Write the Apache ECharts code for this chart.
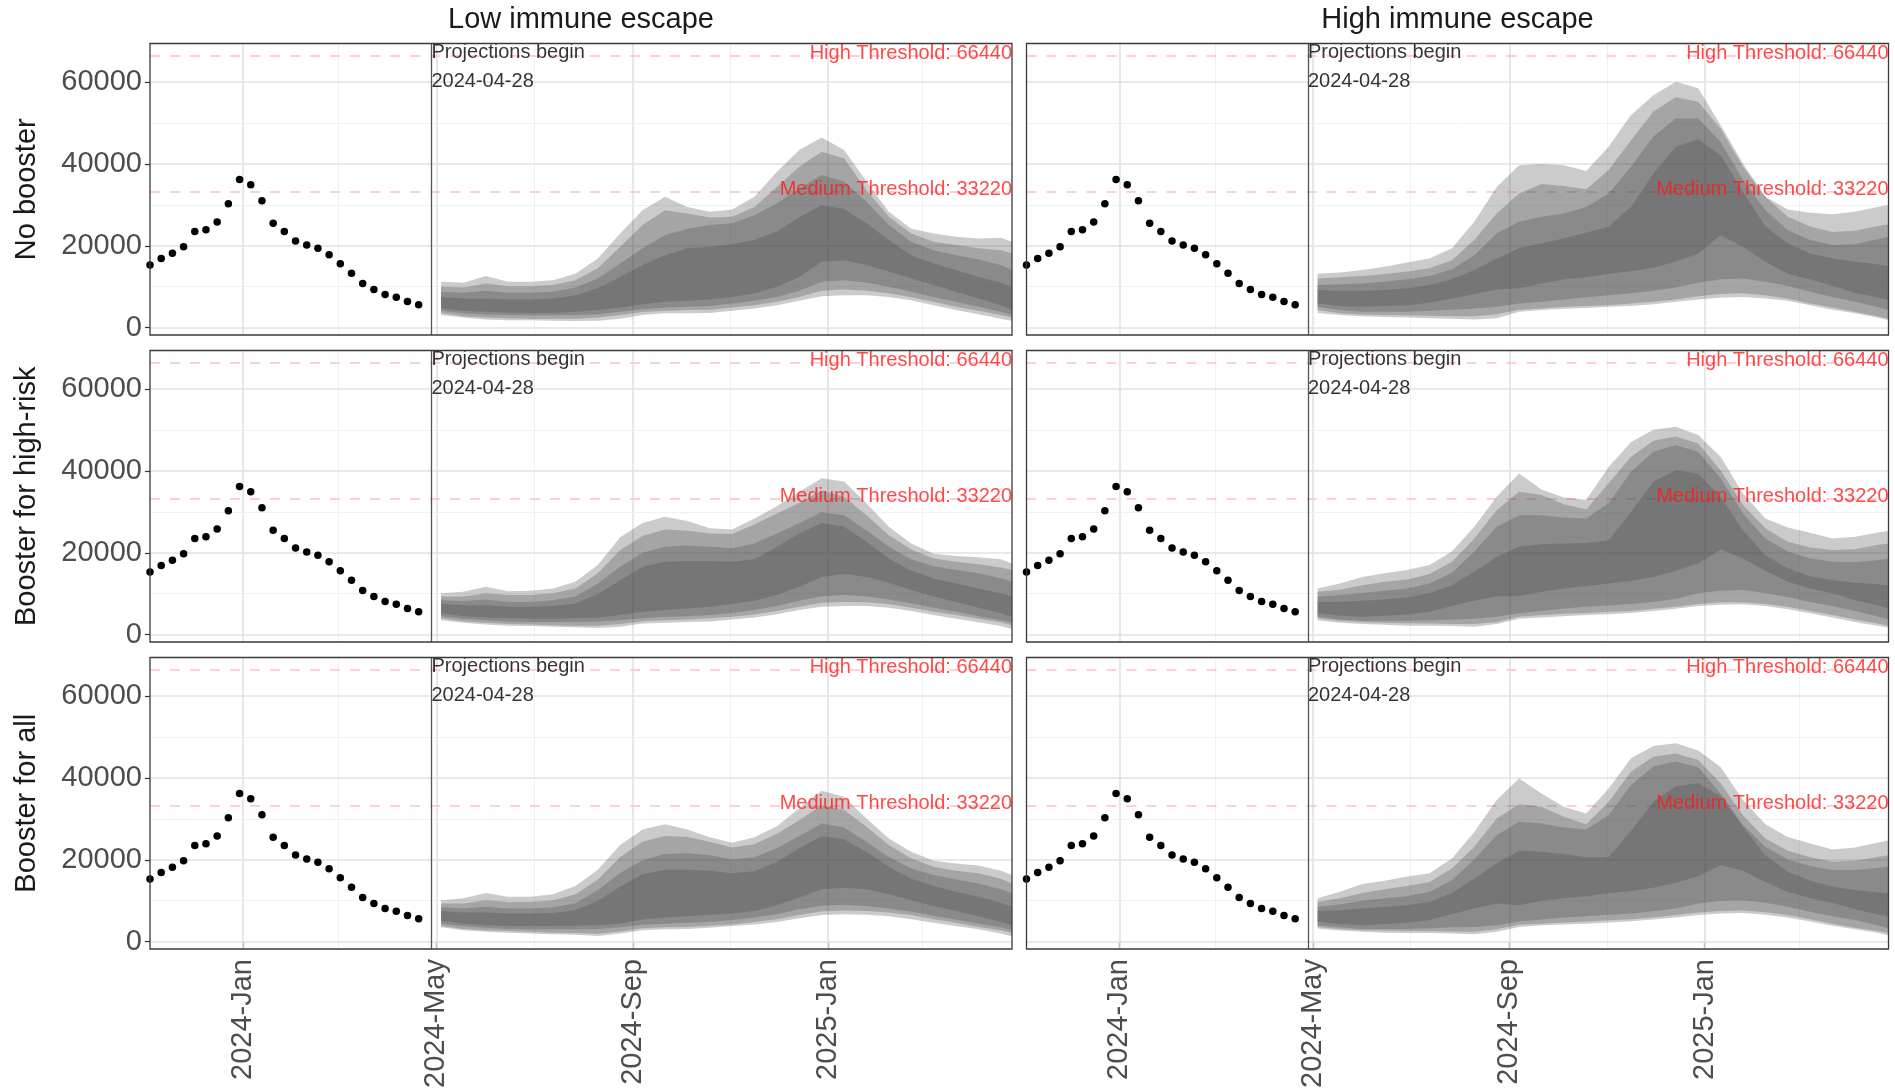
<!DOCTYPE html>
<html><head><meta charset="utf-8">
<script src="https://cdn.jsdelivr.net/npm/echarts@6/dist/echarts.min.js"></script>
<style>html,body{margin:0;padding:0;background:#fff}#c{width:1895px;height:1090px}</style>
</head><body><div id="c"></div><script>
// ---------- data ----------
const colTitles = ['Low immune escape', 'High immune escape'];
const rowTitles = ['No booster', 'Booster for high-risk', 'Booster for all'];
const xTickDates = ['2024-01-01','2024-05-01','2024-09-01','2025-01-01'];
const xTickLabels = ['2024-Jan','2024-May','2024-Sep','2025-Jan'];
const xMinorDates = ['2024-03-01','2024-07-01','2024-11-01','2025-03-01'];
const yTicks = [0, 20000, 40000, 60000];
const yMinor = [10000, 30000, 50000];
const thresholds = [66440, 33220];
const thresholdNames = ['High Threshold', 'Medium Threshold'];
const projStart = '2024-04-28';

const obsDates = ['2023-11-04','2023-11-11','2023-11-18','2023-11-25','2023-12-02','2023-12-09','2023-12-16','2023-12-23','2023-12-30','2024-01-06','2024-01-13','2024-01-20','2024-01-27','2024-02-03','2024-02-10','2024-02-17','2024-02-24','2024-03-02','2024-03-09','2024-03-16','2024-03-23','2024-03-30','2024-04-06','2024-04-13','2024-04-20'];
const obsValues = [15300,16900,18200,19800,23500,23900,25800,30300,36200,34900,31000,25500,23500,21200,20200,19400,17800,15600,13300,10800,9300,8100,7400,6400,5600];

const projDates = ['2024-05-04','2024-05-18','2024-06-01','2024-06-15','2024-06-29','2024-07-13','2024-07-27','2024-08-10','2024-08-24','2024-09-07','2024-09-21','2024-10-05','2024-10-19','2024-11-02','2024-11-16','2024-11-30','2024-12-14','2024-12-28','2025-01-11','2025-01-25','2025-02-08','2025-02-22','2025-03-08','2025-03-22','2025-04-05','2025-04-19','2025-04-26'];

// Low immune escape / No booster
const L1_hi95 = [11200,11000,12600,11200,11200,11600,13200,16900,23000,28700,32000,29500,28300,28900,32000,38100,43400,46500,43400,35700,28300,24200,23000,22200,21800,22000,21000];
const L1_hi90 = [10000,9800,10800,10100,10100,10400,11600,14500,19800,25100,28700,27900,26900,27100,29500,34400,39300,43000,41400,33600,27100,23000,21000,20200,19400,18900,18100];
const L1_hi80 = [8800,8500,9000,8500,8500,8800,9800,12000,15700,19400,22600,24200,25100,25500,27500,30400,34000,37300,35700,30800,25100,21000,18900,17700,16700,15300,14100];
const L1_hi50 = [7500,7100,7100,6900,6900,7100,7900,9600,12400,15300,17700,19400,19800,20400,21400,23500,27000,30000,29000,25500,21400,17700,15700,14100,12400,11000,10000];
const L1_lo50 = [4700,4100,3900,3700,3600,3600,3900,4300,4900,5700,6300,6600,6900,7500,8400,10000,12400,16100,16500,15300,13700,12000,10400,8800,7100,5500,4400];
const L1_lo80 = [4100,3500,3200,3100,3000,3000,3100,3300,3900,4500,4900,5100,5300,5900,6600,7500,9000,11200,11600,11000,10000,8800,7500,6300,5100,3900,3100];
const L1_lo90 = [3600,2800,2500,2300,2200,2200,2200,2500,3100,3800,4100,4300,4400,4900,5500,6300,7500,9000,9300,9000,8400,7400,6300,5100,4100,3100,2500];
const L1_lo95 = [3100,2500,2000,1800,1800,1700,1600,1700,2200,3100,3500,3500,3600,4100,4700,5500,6600,7700,7900,7900,7500,6700,5500,4300,3300,2200,1600];

// High immune escape / No booster
const R1_hi95 = [13200,13500,14100,14900,15900,16900,19400,25900,34400,39700,40000,39700,38300,44200,52000,56800,60100,58500,49500,40100,32000,28900,28100,27700,28300,29500,30000];
const R1_hi90 = [12000,12300,12600,13100,13700,14500,16500,21400,27900,32800,35100,34600,33800,38500,45800,52800,56300,55200,48700,39300,32000,27100,24700,23400,23700,24800,25300];
const R1_hi80 = [10400,10600,10800,11200,11800,12600,14300,17700,23000,25900,27100,27900,29500,32800,39300,46700,51100,51100,45400,36100,28700,23800,21400,20200,20400,21600,22200];
const R1_hi50 = [9200,9000,9000,9200,9600,10400,11800,14100,16900,19400,20600,21800,23200,24700,29500,37700,44200,46000,42200,33200,24700,20600,18100,16900,16100,15500,15000];
const R1_lo50 = [5900,5300,5100,5300,5500,6100,7100,8200,9300,9600,10800,11800,12300,13200,13800,14700,16100,18100,22600,19800,16100,13200,11800,10200,8500,7400,6700];
const R1_lo80 = [5100,4300,3900,3900,3900,4100,4400,4700,5100,5900,6300,6900,7400,7900,8400,9000,9800,11000,11800,12000,11200,10200,8800,7500,6300,5100,4300];
const R1_lo90 = [4300,3500,3200,3100,3000,2900,2800,2800,3300,4400,4700,5100,5300,5500,5900,6300,6900,7700,8200,8400,7900,7100,5900,4900,3900,2800,2200];
const R1_lo95 = [3600,3100,2800,2600,2500,2300,2200,2000,2300,3900,4300,4600,4800,5100,5300,5700,6300,6900,7300,7500,7100,6600,5500,4400,3500,2500,1800];

// Low immune escape / Booster for high-risk
const L2_hi95 = [10100,10500,11700,10600,10700,11300,12900,17000,23800,27300,28800,27800,26000,25700,28400,31400,34900,38200,37400,32100,26400,22300,19800,19200,18900,18400,17400];
const L2_hi90 = [9300,9300,10100,9700,9700,10100,11300,15000,20700,24100,25700,25400,24700,24600,27000,29600,32200,35200,33700,29200,24300,20800,18600,17800,17200,16400,15800];
const L2_hi80 = [8400,8200,8600,8000,8000,8400,9300,12500,16600,20000,21500,21800,21500,21100,22300,24700,27200,30000,29200,25500,21500,18400,16700,15800,15000,13700,12900];
const L2_hi50 = [7600,7200,7200,6800,6800,7000,7600,9900,13300,16600,17800,18000,18000,17800,18400,21500,24700,27300,26400,22700,18600,15600,13700,12500,11300,10100,9300];
const L2_lo50 = [5200,4500,4200,4000,3900,3900,4000,4200,4800,5600,6000,6400,6800,7500,8300,9700,11700,14100,14800,14100,12700,10900,9300,8000,6600,5200,4400];
const L2_lo80 = [4500,3900,3500,3200,3100,3100,3100,3200,3500,4000,4400,4500,4800,5300,6000,7000,8300,9400,9700,9300,8600,7600,6600,5600,4500,3500,3000];
const L2_lo90 = [4000,3300,2900,2600,2500,2300,2200,2200,2600,3300,3500,3700,4000,4400,4900,5800,6800,7800,8000,7900,7500,6600,5600,4800,3900,3000,2300];
const L2_lo95 = [3500,2900,2500,2200,2100,1900,1800,1600,1900,2700,2900,3100,3200,3700,4200,5000,6000,6800,7000,7000,6600,5800,4800,3900,3000,2100,1400];

// High immune escape / Booster for high-risk
const R2_hi95 = [11300,12500,14100,15000,15800,17000,20300,26400,33700,39400,35500,33500,33000,41000,47100,50100,50800,48800,43500,34500,28400,26200,24900,23500,23900,24900,25400];
const R2_hi90 = [10500,11000,12100,12900,13500,14800,17800,23500,30400,34900,34100,31900,30600,37000,43500,47400,48400,46700,40200,31700,26000,22700,21300,20700,20900,21900,22300];
const R2_hi80 = [9300,9700,10200,10700,11300,12500,15100,20300,26400,29200,29200,28600,28400,32100,39800,44700,46300,44700,38200,29600,23500,20300,18600,17800,17700,18200,18600];
const R2_hi50 = [8000,8000,8300,8600,9100,10100,12100,15400,19000,21500,22100,22300,22400,23100,30000,37400,40100,39400,33700,25500,19400,16200,14300,13300,12700,12300,12100];
const R2_lo50 = [5200,4600,4400,4600,4900,5600,7000,8300,9400,9400,10500,11300,11900,12500,13200,14100,15600,17400,20800,18600,15600,12900,11300,10100,8400,7200,6400];
const R2_lo80 = [4400,3700,3400,3400,3400,3500,3700,3900,4400,5200,5800,6400,6800,7100,7500,8000,8800,10100,10700,10900,10200,9200,8000,7000,5800,4500,3700];
const R2_lo90 = [4000,3400,3100,2900,2800,2700,2600,2600,3100,4400,4800,5100,5300,5600,5800,6300,6800,7500,7900,7900,7500,6800,5800,4800,3700,2700,2200];
const R2_lo95 = [3500,2900,2600,2400,2200,2200,2100,1900,2600,3900,4200,4500,4800,5000,5300,5800,6300,7000,7300,7400,7000,6200,5200,4200,3100,2200,1700];

// Low immune escape / Booster for all
const L3_hi95 = [10100,10600,11900,11000,11000,11600,13600,17600,23600,27400,28700,27400,25500,24200,25500,28200,32600,36900,35400,30100,25200,22000,19800,19100,18600,17300,16300];
const L3_hi90 = [9300,9300,10100,9700,9700,10100,11600,15200,20700,24400,25800,25600,24400,23000,23800,26400,29700,33400,32200,28100,23600,20300,18300,17300,16700,15400,14200];
const L3_hi80 = [8400,8100,8500,8100,8100,8400,9300,12600,16800,19900,21400,21600,21100,20100,20600,22800,25800,28900,27900,24400,20700,17900,16300,15200,14200,12800,11800];
const L3_hi50 = [7500,7100,7100,6900,6900,7000,7700,10000,13400,16500,17600,17600,17300,16700,17200,19500,22800,25800,25000,22000,18300,15400,13600,12200,11000,9500,8500];
const L3_lo50 = [5100,4400,4000,3800,3800,3800,3900,4000,4400,5400,5900,6200,6600,6900,7500,8900,10800,12800,13200,12800,11600,10100,8700,7500,6200,4800,4000];
const L3_lo80 = [4400,3800,3400,3100,3000,3000,3000,3100,3500,4100,4400,4600,4800,5300,5900,6700,7900,8800,9000,8700,8100,7300,6300,5400,4400,3500,2800];
const L3_lo90 = [3800,3100,2800,2600,2400,2200,2100,1900,2500,3300,3500,3600,3900,4200,4800,5500,6500,7400,7600,7500,7100,6500,5500,4600,3600,2800,2200];
const L3_lo95 = [3500,2800,2400,2200,2000,1800,1700,1400,2000,2800,3000,3100,3400,3800,4200,4800,5700,6500,6700,6600,6200,5500,4600,3800,3000,2000,1300];

// High immune escape / Booster for all
const R3_hi95 = [10600,12200,14100,14900,15900,16700,20300,26800,34600,39900,36200,33000,31300,37400,44800,47800,48500,46700,42700,34600,28700,25600,24000,22500,23000,24200,24800];
const R3_hi90 = [9700,10600,11900,12800,13600,14600,17900,23200,30100,33600,33000,30500,28700,34200,41500,45200,46000,44400,38700,30900,25200,22200,20600,19500,19800,20700,21100];
const R3_hi80 = [8500,9100,10000,10600,11100,12200,15000,20100,26000,29300,28900,27900,27400,30900,38300,42800,44000,42600,36200,28500,23200,20100,18500,17500,17500,18000,18300];
const R3_hi50 = [7500,7700,8100,8500,8900,9700,11900,15400,19100,22200,22000,21400,20600,20700,27100,34200,38000,38700,35600,28100,21100,17100,14900,13400,12600,12000,11800];
const R3_lo50 = [4900,4300,4000,4300,4600,5300,6700,8100,9300,8900,10000,10600,11100,11800,12400,13200,14400,16000,18700,17300,14600,12200,10600,9500,7900,6700,6100];
const R3_lo80 = [4000,3500,3100,3100,3100,3300,3500,3600,4000,4900,5400,5900,6200,6600,6900,7400,8100,9300,10000,10100,9500,8500,7300,6200,5300,4000,3200];
const R3_lo90 = [3600,3100,2800,2700,2600,2600,2500,2400,3000,4100,4400,4700,4900,5200,5500,5900,6500,7100,7500,7600,7200,6500,5500,4400,3400,2600,2100];
const R3_lo95 = [3200,2700,2400,2200,2100,2100,2000,1800,2400,3600,4000,4200,4400,4700,5000,5400,5900,6500,6900,7000,6600,5900,4900,3900,3000,2200,1500];

// ---------- layout ----------
const X_MIN = '2023-11-04', X_MAX = '2025-04-26';
const Y_MIN = -1800, Y_MAX = 69450;
const colLeft = [150, 1026.5], colWidth = 862;
const rowTop = [43.5, 350.5, 657.5], rowHeight = 291.5;
const FONT = '"Liberation Sans", Arial, Helvetica, sans-serif';

const ts = s => Date.parse(s + 'T00:00:00Z');
const xTickVals = xTickDates.map(ts);

const panels = [
  [L1_lo95,L1_hi95,L1_lo90,L1_hi90,L1_lo80,L1_hi80,L1_lo50,L1_hi50],
  [R1_lo95,R1_hi95,R1_lo90,R1_hi90,R1_lo80,R1_hi80,R1_lo50,R1_hi50],
  [L2_lo95,L2_hi95,L2_lo90,L2_hi90,L2_lo80,L2_hi80,L2_lo50,L2_hi50],
  [R2_lo95,R2_hi95,R2_lo90,R2_hi90,R2_lo80,R2_hi80,R2_lo50,R2_hi50],
  [L3_lo95,L3_hi95,L3_lo90,L3_hi90,L3_lo80,L3_hi80,L3_lo50,L3_hi50],
  [R3_lo95,R3_hi95,R3_lo90,R3_hi90,R3_lo80,R3_hi80,R3_lo50,R3_hi50]
];

// ribbon drawn as one polygon through the axes' own coordinate mapping
function ribbonRender(params, api) {
  if (params.dataIndexInside !== 0) return null;
  const n = params.dataInsideLength;
  const up = [], dn = [];
  for (let i = 0; i < n; i++) {
    up.push(api.coord([api.value(0, i), api.value(2, i)]));
    dn.push(api.coord([api.value(0, i), api.value(1, i)]));
  }
  return {type: 'polygon', shape: {points: up.concat(dn.reverse())},
    style: {fill: '#464646', opacity: 0.28}};
}

const grids = [], xAxes = [], yAxes = [], series = [], graphics = [];
panels.forEach((bands, p) => {
  const row = Math.floor(p / 2), col = p % 2;
  const bottom = row === 2, left = col === 0;
  grids.push({left: colLeft[col], top: rowTop[row], width: colWidth, height: rowHeight,
    containLabel: false, outerBoundsMode: 'none', show: false});
  xAxes.push({type: 'value', gridIndex: p, min: ts(X_MIN), max: ts(X_MAX),
    splitLine: {show: false}, axisLine: {show: false},
    axisTick: {show: bottom, length: 6, customValues: xTickVals, lineStyle: {color: '#333', width: 1.2}},
    axisLabel: {show: bottom, customValues: xTickVals, rotate: 90, margin: 10,
      fontSize: 29, fontFamily: FONT, color: '#4d4d4d',
      formatter: v => { const i = xTickVals.indexOf(+v); return i >= 0 ? xTickLabels[i] : ''; }}});
  yAxes.push({type: 'value', gridIndex: p, min: Y_MIN, max: Y_MAX,
    splitLine: {show: false}, axisLine: {show: false},
    axisTick: {show: left, length: 5, customValues: yTicks, lineStyle: {color: '#333', width: 1.2}},
    axisLabel: {show: left, customValues: yTicks, margin: 8, fontSize: 29, fontFamily: FONT,
      color: '#4d4d4d', formatter: v => String(v)}});
  const ax = {xAxisIndex: p, yAxisIndex: p};

  // grid lines (beneath everything)
  const gl = [];
  xTickDates.forEach(d => gl.push({xAxis: ts(d), lineStyle: {color: '#e2e2e2', width: 1.6, type: 'solid'}}));
  xMinorDates.forEach(d => gl.push({xAxis: ts(d), lineStyle: {color: '#efefef', width: 0.9, type: 'solid'}}));
  yTicks.forEach(v => gl.push({yAxis: v, lineStyle: {color: '#e2e2e2', width: 1.6, type: 'solid'}}));
  yMinor.forEach(v => gl.push({yAxis: v, lineStyle: {color: '#efefef', width: 0.9, type: 'solid'}}));
  series.push({type: 'line', ...ax, data: [[ts(X_MIN), 0]], symbol: 'none', lineStyle: {opacity: 0},
    silent: true, z: 1, animation: false,
    markLine: {z: 1, silent: true, symbol: ['none', 'none'], label: {show: false}, animation: false, data: gl}});

  // threshold lines
  series.push({type: 'line', ...ax, data: [[ts(X_MIN), 0]], symbol: 'none', lineStyle: {opacity: 0},
    silent: true, z: 2, animation: false,
    markLine: {z: 2, silent: true, symbol: ['none', 'none'], label: {show: false}, animation: false,
      lineStyle: {color: '#ffc0cb', width: 1.5, type: [10, 10]},
      data: thresholds.map(t => ({yAxis: t}))}});

  // ribbons (95, 90, 80, 50)
  for (let r = 0; r < 4; r++) {
    const lo = bands[2 * r], hi = bands[2 * r + 1];
    series.push({type: 'custom', ...ax, renderItem: ribbonRender,
      data: projDates.map((d, i) => [ts(d), lo[i], hi[i]]),
      encode: {x: 0, y: [1, 2]}, silent: true, z: 3, animation: false});
  }

  // observed
  series.push({type: 'scatter', ...ax, data: obsDates.map((d, i) => [ts(d), obsValues[i]]),
    symbolSize: 7.5, itemStyle: {color: '#000', opacity: 1}, silent: true, z: 5, animation: false});

  // projection start line
  series.push({type: 'line', ...ax, data: [[ts(X_MIN), 0]], symbol: 'none', lineStyle: {opacity: 0},
    silent: true, z: 5, animation: false,
    markLine: {z: 5, silent: true, symbol: ['none', 'none'], label: {show: false}, animation: false,
      lineStyle: {color: '#555', width: 1.3, type: 'solid'},
      data: [{xAxis: ts(projStart)}]}});

  // text annotations
  const txt = thresholds.map((t, i) => ({value: [ts(X_MAX), t],
    label: {show: true, formatter: thresholdNames[i] + ': ' + t, position: 'left', distance: 0,
      color: '#ff1a1a', fontSize: 20, fontFamily: FONT, offset: [0, -2]}}));
  txt.push({value: [ts(projStart), Y_MAX],
    label: {show: true, formatter: 'Projections begin\n' + projStart, position: 'right', distance: 0,
      align: 'left', verticalAlign: 'top', lineHeight: 29, color: '#000', fontSize: 20, fontFamily: FONT,
      offset: [0, -6]}});
  series.push({type: 'scatter', ...ax, data: txt, symbolSize: 0, clip: false, silent: true, z: 6, animation: false});

  // panel border
  graphics.push({type: 'rect', shape: {x: colLeft[col], y: rowTop[row], width: colWidth, height: rowHeight},
    style: {fill: 'none', stroke: '#3a3a3a', lineWidth: 1.3}, z: 100, silent: true});
});

colTitles.forEach((t, c) => graphics.push({type: 'text', x: colLeft[c] + colWidth / 2, y: 19.5, silent: true,
  style: {text: t, fill: '#1a1a1a', font: '29px ' + FONT, align: 'center', verticalAlign: 'middle'}}));
rowTitles.forEach((t, r) => graphics.push({type: 'text', x: 27, y: rowTop[r] + rowHeight / 2, rotation: Math.PI / 2,
  silent: true, style: {text: t, fill: '#1a1a1a', font: '29px ' + FONT, align: 'center', verticalAlign: 'middle'}}));

const chart = echarts.init(document.getElementById('c'), null, {renderer: 'canvas'});
chart.setOption({
  backgroundColor: '#fff', animation: false,
  textStyle: {fontFamily: FONT},
  grid: grids, xAxis: xAxes, yAxis: yAxes, series: series, graphic: graphics
});
</script></body></html>
